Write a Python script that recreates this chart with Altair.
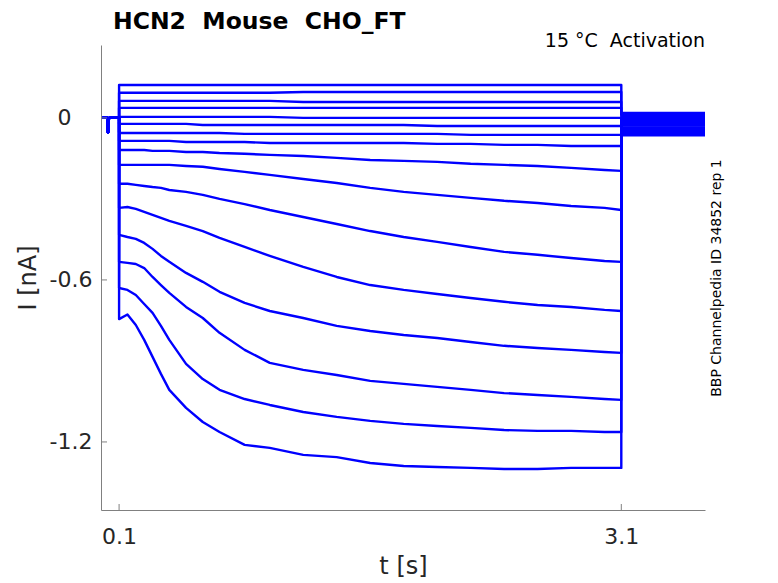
import altair as alt
import pandas as pd

# ---------------- data ----------------
# time grid of the activation step (s)
T_GRID = [0.1, 0.15, 0.2, 0.25, 0.3, 0.35, 0.4, 0.5, 0.6, 0.7, 0.85, 1.0,
          1.2, 1.4, 1.6, 1.8, 2.0, 2.2, 2.4, 2.6, 2.8, 3.0, 3.1]

# holding period before the step (same for every sweep)
PRE_T = [0.0, 0.03, 0.034, 0.037, 0.04, 0.1]
PRE_I = [0.0, 0.0, -0.055, -0.015, 0.0, 0.0]

# tail period after the step
TAIL_T = [3.1, 3.6]
TAIL_I = [0.018, 0.015, 0.012, 0.008, 0.004, 0.0, -0.005, -0.010,
          -0.016, -0.022, -0.028, -0.035, -0.042, -0.048, -0.055, -0.064]

# current (nA) of each sweep on T_GRID
trace_01 = [0.122, 0.122, 0.122, 0.122, 0.122, 0.122, 0.122, 0.122, 0.122, 0.122, 0.122, 0.122,
            0.122, 0.122, 0.122, 0.122, 0.122, 0.122, 0.122, 0.122, 0.122, 0.122, 0.122]
trace_02 = [0.093, 0.093, 0.093, 0.093, 0.093, 0.093, 0.093, 0.093, 0.093, 0.093, 0.093, 0.093,
            0.096, 0.096, 0.096, 0.096, 0.096, 0.096, 0.096, 0.096, 0.096, 0.096, 0.096]
trace_03 = [0.063, 0.063, 0.063, 0.063, 0.063, 0.063, 0.063, 0.063, 0.063, 0.063, 0.063, 0.063,
            0.059, 0.059, 0.059, 0.059, 0.059, 0.059, 0.059, 0.059, 0.059, 0.059, 0.059]
trace_04 = [0.037, 0.037, 0.037, 0.037, 0.037, 0.037, 0.037, 0.037, 0.037, 0.037, 0.037, 0.037,
            0.037, 0.037, 0.037, 0.037, 0.037, 0.037, 0.037, 0.037, 0.037, 0.037, 0.037]
trace_05 = [0.004, 0.004, 0.004, 0.004, 0.004, 0.004, 0.004, 0.004, 0.004, 0.004, 0.004, 0.004,
            0.0, 0.0, 0.0, 0.0, 0.0, 0.0, 0.0, 0.0, 0.0, 0.0, 0.0]
trace_06 = [-0.022, -0.022, -0.022, -0.022, -0.022, -0.022, -0.022, -0.022, -0.026, -0.026, -0.026, -0.026,
            -0.026, -0.026, -0.026, -0.026, -0.030, -0.030, -0.030, -0.030, -0.030, -0.030, -0.030]
trace_07 = [-0.056, -0.056, -0.056, -0.056, -0.056, -0.056, -0.056, -0.056, -0.056, -0.056, -0.059, -0.059,
            -0.059, -0.059, -0.059, -0.059, -0.059, -0.063, -0.063, -0.063, -0.063, -0.063, -0.063]
trace_08 = [-0.085, -0.085, -0.085, -0.085, -0.085, -0.085, -0.085, -0.089, -0.089, -0.089, -0.089, -0.093,
            -0.093, -0.093, -0.093, -0.093, -0.096, -0.096, -0.100, -0.100, -0.104, -0.104, -0.104]
trace_09 = [-0.119, -0.119, -0.119, -0.119, -0.122, -0.122, -0.122, -0.126, -0.126, -0.130, -0.133, -0.137,
            -0.141, -0.148, -0.156, -0.159, -0.163, -0.170, -0.174, -0.178, -0.185, -0.193, -0.196]
trace_10 = [-0.174, -0.174, -0.174, -0.174, -0.174, -0.174, -0.174, -0.178, -0.181, -0.189, -0.200, -0.211,
            -0.226, -0.241, -0.259, -0.274, -0.285, -0.296, -0.307, -0.315, -0.326, -0.333, -0.341]
trace_11 = [-0.244, -0.244, -0.248, -0.252, -0.256, -0.259, -0.267, -0.274, -0.285, -0.300, -0.319, -0.341,
            -0.367, -0.393, -0.419, -0.441, -0.459, -0.478, -0.496, -0.507, -0.519, -0.530, -0.533]
trace_12 = [-0.333, -0.330, -0.337, -0.348, -0.359, -0.370, -0.381, -0.400, -0.419, -0.444, -0.478, -0.511,
            -0.552, -0.589, -0.619, -0.637, -0.652, -0.667, -0.681, -0.693, -0.700, -0.711, -0.715]
trace_13 = [-0.433, -0.441, -0.448, -0.463, -0.485, -0.511, -0.533, -0.574, -0.607, -0.644, -0.685, -0.715,
            -0.741, -0.770, -0.789, -0.804, -0.815, -0.830, -0.844, -0.852, -0.859, -0.867, -0.870]
trace_14 = [-0.533, -0.537, -0.541, -0.556, -0.589, -0.619, -0.648, -0.700, -0.741, -0.796, -0.859, -0.907,
            -0.933, -0.952, -0.974, -0.985, -0.996, -1.007, -1.019, -1.026, -1.033, -1.041, -1.044]
trace_15 = [-0.630, -0.637, -0.656, -0.689, -0.722, -0.770, -0.822, -0.911, -0.967, -1.007, -1.041, -1.063,
            -1.089, -1.107, -1.122, -1.133, -1.141, -1.148, -1.156, -1.159, -1.159, -1.163, -1.163]
trace_16 = [-0.745, -0.728, -0.767, -0.822, -0.885, -0.948, -1.007, -1.074, -1.126, -1.163, -1.211, -1.222,
            -1.248, -1.256, -1.278, -1.289, -1.293, -1.296, -1.300, -1.300, -1.296, -1.296, -1.296]

TRACES = [trace_01, trace_02, trace_03, trace_04, trace_05, trace_06, trace_07, trace_08,
          trace_09, trace_10, trace_11, trace_12, trace_13, trace_14, trace_15, trace_16]

X_TICKS = [0.1, 3.1]
Y_TICKS = [0.0, -0.6, -1.2]

TITLE = "HCN2\u00a0 Mouse\u00a0 CHO_FT"
CONDITION = "15 \u00b0C\u00a0 Activation"
SOURCE = "BBP Channelpedia ID 34852 rep 1"

# ---------------- build the long table ----------------
rows = []
for k, (vals, tail) in enumerate(zip(TRACES, TAIL_I)):
    idx = 0
    for t, v in zip(PRE_T, PRE_I):
        rows.append({"sweep": k + 1, "i": idx, "t": t, "I": v})
        idx += 1
    for t, v in zip(T_GRID, vals):
        rows.append({"sweep": k + 1, "i": idx, "t": t, "I": v})
        idx += 1
    for t in TAIL_T:
        rows.append({"sweep": k + 1, "i": idx, "t": t, "I": tail})
        idx += 1
df = pd.DataFrame(rows)

W, H = 604, 465
FONT = "DejaVu Sans"
AX = "#808080"
TXT = "#262626"

x_scale = alt.Scale(domain=[-0.008, 3.6], nice=False, zero=False)
y_scale = alt.Scale(domain=[-1.452, 0.27], nice=False, zero=False)

# "0" sits further left than the other labels in the reference
y_label_expr = ("datum.value == 0 ? '0\u00a0\u00a0\u00a0\u200b' : "
                "replace(format(datum.value, '.1f'), '\u2212', '-')")

X_AXIS = alt.Axis(values=X_TICKS, format=".1f", title="t [s]",
                  labelPadding=16, titleY=56, titleBaseline="middle")
Y_AXIS = alt.Axis(values=Y_TICKS, labelExpr=y_label_expr, title="I [nA]",
                  labelAlign="right", labelBaseline="middle", labelPadding=9,
                  titleX=-73, titleY=H / 2, titleAlign="center", titleBaseline="middle")

lines = alt.Chart(df).mark_line(color="#0000ff", strokeWidth=2.4, strokeJoin="round").encode(
    x=alt.X("t:Q", scale=x_scale, axis=X_AXIS),
    y=alt.Y("I:Q", scale=y_scale, axis=Y_AXIS),
    detail="sweep:N",
    order="i:Q",
)

y_ticks = alt.Chart(pd.DataFrame({"I": Y_TICKS})).mark_rule(color=AX, strokeWidth=1).encode(
    y=alt.Y("I:Q", scale=y_scale, axis=Y_AXIS),
    x=alt.value(0),
    x2=alt.value(6),
)
x_ticks = alt.Chart(pd.DataFrame({"t": X_TICKS})).mark_rule(color=AX, strokeWidth=1).encode(
    x=alt.X("t:Q", scale=x_scale, axis=X_AXIS),
    y=alt.value(H),
    y2=alt.value(H - 6),
)

title_text = alt.Chart(pd.DataFrame({"s": [TITLE]})).mark_text(
    font=FONT, fontSize=23.5, fontWeight="bold", color="#000000", align="left",
    baseline="alphabetic"
).encode(text="s:N", x=alt.value(12), y=alt.value(-16))

cond_text = alt.Chart(pd.DataFrame({"s": [CONDITION]})).mark_text(
    font=FONT, fontSize=19, color="#000000", align="right", baseline="alphabetic"
).encode(text="s:N", x=alt.value(W), y=alt.value(2))

src_text = alt.Chart(pd.DataFrame({"s": [SOURCE]})).mark_text(
    font=FONT, fontSize=14, color="#000000", align="center", baseline="middle", angle=270
).encode(text="s:N", x=alt.value(616), y=alt.value(233))

chart = alt.layer(lines, y_ticks, x_ticks, title_text, cond_text, src_text).properties(
    width=W,
    height=H,
    background="white",
    autosize=alt.AutoSizeParams(type="none"),
    padding={"left": 93, "top": 37, "right": 60, "bottom": 72},
).configure_view(stroke="transparent", strokeWidth=0).configure_axis(
    labelFont=FONT, labelFontSize=22, labelColor=TXT,
    titleFont=FONT, titleFontSize=24, titleFontWeight="normal", titleColor=TXT,
    domainColor=AX, domainWidth=1, ticks=False, tickSize=0, grid=False,
)

chart.save("out.html", embed_options={"renderer": "svg", "actions": False})
